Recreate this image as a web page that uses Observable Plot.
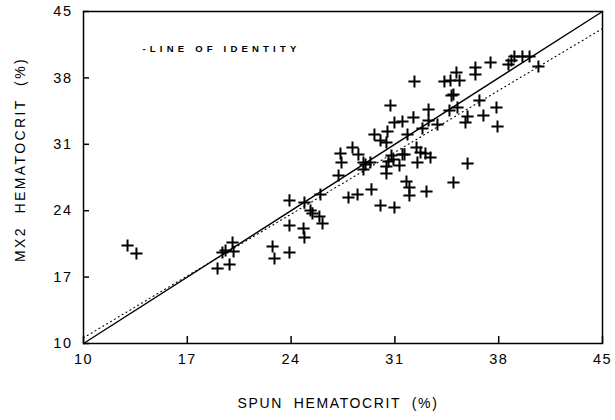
<!DOCTYPE html>
<html>
<head>
<meta charset="utf-8">
<script src="https://cdn.jsdelivr.net/npm/d3@7"></script>
<script src="https://cdn.jsdelivr.net/npm/@observablehq/plot@0.6"></script>
<style>
  html, body { margin: 0; padding: 0; background: #fff; }
</style>
</head>
<body>
<div id="chart"></div>
<script>
// Spun hematocrit (%) — x values
const spunHct = [
  12.97, 13.57, 19.04, 19.85, 19.37, 19.58, 20.05, 20.12, 22.75, 22.88,
  23.89, 23.89, 24.84, 24.90, 23.89, 24.90, 25.31, 25.44, 25.91, 26.12,
  25.98, 27.20, 27.33, 27.40, 27.87, 28.48, 28.14, 28.54, 28.88, 29.02,
  29.35, 28.88, 29.42, 29.62, 30.50, 30.03, 30.43, 31.85, 30.77, 30.57,
  30.90, 31.31, 30.43, 30.43, 31.51, 31.65, 32.46, 32.73, 33.06, 33.40,
  32.52, 31.78, 31.98, 31.98, 33.13, 34.95, 30.03, 30.97, 35.90, 30.70,
  33.27, 32.25, 31.51, 30.97, 33.27, 33.87, 32.86, 32.32, 34.34, 34.75,
  35.36, 35.15, 34.82, 34.95, 34.68, 35.22, 36.43, 36.43, 37.45, 38.66,
  38.86, 39.06, 39.60, 40.08, 40.68, 36.70, 37.85, 36.97, 35.90, 35.76,
  37.92
];
// MX2 hematocrit (%) — y values
const mx2Hct = [
  20.33, 19.49, 17.91, 18.33, 19.59, 19.80, 20.65, 19.70, 20.23, 18.96,
  19.59, 22.44, 22.12, 21.18, 25.08, 24.86, 24.02, 23.71, 23.39, 22.65,
  25.71, 27.71, 30.03, 29.08, 25.39, 25.71, 30.66, 29.93, 29.08, 28.87,
  29.08, 28.34, 26.24, 32.03, 32.35, 31.40, 31.19, 32.03, 29.82, 29.19,
  29.40, 28.77, 28.66, 27.92, 29.93, 29.93, 30.66, 30.14, 30.03, 29.61,
  29.08, 27.08, 26.45, 25.60, 26.02, 26.97, 24.55, 24.34, 28.98, 35.09,
  34.67, 33.83, 33.40, 33.30, 33.51, 33.09, 32.67, 37.62, 37.62, 37.73,
  37.73, 38.57, 36.14, 36.25, 34.56, 34.88, 39.10, 38.36, 39.62, 39.41,
  39.83, 40.26, 40.26, 40.26, 39.20, 35.62, 34.88, 34.04, 33.93, 33.30,
  32.88
];
// Line of identity and dotted fitted line (end values)
const identityX = [10, 45];
const identityY = [10, 45];
const fitX = [10, 45];
const fitY = [10.6, 43.2];
// Tick labels
const xTicks = [10, 17, 24, 31, 38, 45];
const yTicks = [10, 17, 24, 31, 38, 45];
const xTitle = "SPUN  HEMATOCRIT  (%)";
const yTitle = "MX2  HEMATOCRIT  (%)";
const legendLabel = "-LINE OF IDENTITY";

const points = spunHct.map((x, i) => ({x, y: mx2Hct[i]}));
const identity = identityX.map((x, i) => ({x, y: identityY[i]}));
const fit = fitX.map((x, i) => ({x, y: fitY[i]}));

const W = 615, H = 420, ML = 83, MR = 13, MT = 11, MB = 77;
const FW = W - ML - MR, FH = H - MT - MB;
const font = "'Liberation Sans', Arial, Helvetica, sans-serif";

const chart = Plot.plot({
  width: W,
  height: H,
  marginLeft: ML,
  marginRight: MR,
  marginTop: MT,
  marginBottom: MB,
  style: {fontFamily: font, background: "#fff", color: "#000"},
  x: {domain: [10, 45], axis: null},
  y: {domain: [10, 45], axis: null},
  marks: [
    Plot.line(fit, {x: "x", y: "y", stroke: "#000", strokeWidth: 1.1, strokeDasharray: "1,3.5"}),
    Plot.line(identity, {x: "x", y: "y", stroke: "#000", strokeWidth: 1.4}),
    Plot.dot(points, {x: "x", y: "y", symbol: "plus", r: 4, stroke: "#000", strokeWidth: 2}),
    Plot.tickX(xTicks, {x: d => d, stroke: "#000", strokeWidth: 1.5, insetTop: FH - 7}),
    Plot.tickY(yTicks, {y: d => d, stroke: "#000", strokeWidth: 1.5, insetRight: FW - 6}),
    Plot.axisX(xTicks, {label: null, tickSize: 0, tickPadding: 10, fontSize: 14.5, tickFormat: d => String(d), fill: "#000"}),
    Plot.axisY(yTicks, {label: null, tickSize: 0, tickPadding: 11, fontSize: 14.5, tickFormat: d => String(d), fill: "#000"}),
    Plot.frame({stroke: "#000", strokeWidth: 1.5}),
    Plot.text([legendLabel], {frameAnchor: "top-left", textAnchor: "start", lineAnchor: "middle", dx: 59, dy: 37, fontSize: 9.5, fontWeight: "bold", fill: "#000"}),
    Plot.text([xTitle], {frameAnchor: "bottom", textAnchor: "middle", lineAnchor: "middle", dx: -5, dy: 60, fontSize: 14, fill: "#000"}),
    Plot.text([yTitle], {frameAnchor: "left", textAnchor: "middle", rotate: -90, lineAnchor: "middle", dx: -63, dy: -18, fontSize: 14, fill: "#000"})
  ]
});

// letter spacing tweaks for the typewriter-like lettering
d3.select(chart).selectAll("text").each(function() {
  const t = this.textContent;
  if (t === legendLabel) this.style.letterSpacing = "4.2px";
  else if (t === xTitle) this.style.letterSpacing = "1.6px";
  else if (t === yTitle) this.style.letterSpacing = "2.4px";
  else if (/^\d+$/.test(t)) this.style.letterSpacing = "1.5px";
});
document.getElementById("chart").appendChild(chart);
</script>
</body>
</html>
